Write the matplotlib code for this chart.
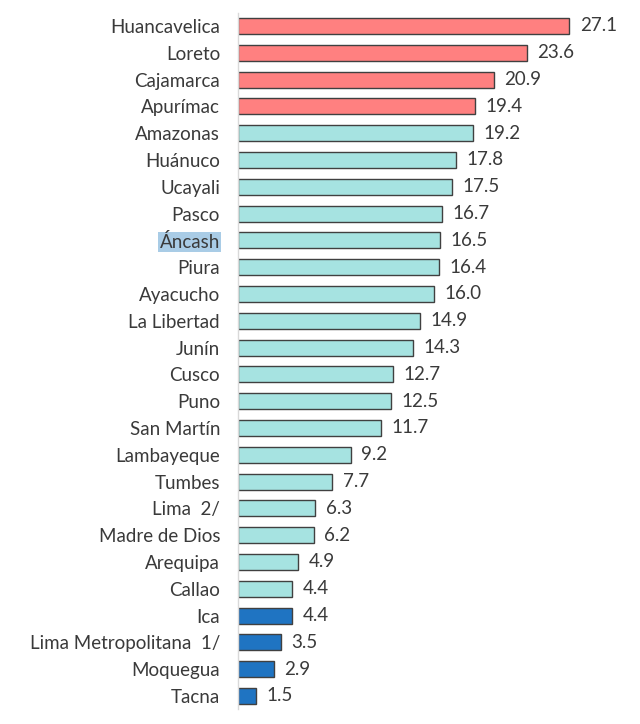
import matplotlib
matplotlib.use("Agg")
import matplotlib.pyplot as plt

regions = ["Huancavelica", "Loreto", "Cajamarca", "Apurímac", "Amazonas", "Huánuco",
           "Ucayali", "Pasco", "Áncash", "Piura", "Ayacucho", "La Libertad", "Junín",
           "Cusco", "Puno", "San Martín", "Lambayeque", "Tumbes", "Lima  2/",
           "Madre de Dios", "Arequipa", "Callao", "Ica", "Lima Metropolitana  1/",
           "Moquegua", "Tacna"]
values = [27.1, 23.6, 20.9, 19.4, 19.2, 17.8, 17.5, 16.7, 16.5, 16.4, 16.0, 14.9, 14.3,
          12.7, 12.5, 11.7, 9.2, 7.7, 6.3, 6.2, 4.9, 4.4, 4.4, 3.5, 2.9, 1.5]
groups = ["high"] * 4 + ["mid"] * 18 + ["low"] * 4
group_colors = {"high": "#FF8080", "mid": "#A6E3E1", "low": "#1F74C2"}

plt.rcParams['font.family'] = ['Lato', 'DejaVu Sans']

fig = plt.figure(figsize=(6.4, 7.24), dpi=100)
n = len(regions)
ax = fig.add_axes([0.372, 0.0202, 0.60, 0.9624])
ypos = list(range(n))
ax.barh(ypos, values, height=0.6, color=[group_colors[g] for g in groups],
        edgecolor="#404040", linewidth=1.0)
ax.set_ylim(n - 0.5, -0.5)
ax.set_xlim(0, 31.4)
for y, v in zip(ypos, values):
    ax.text(v + 0.85, y, f"{v:.1f}", va="center", ha="left", fontsize=13.5, color="#3A3A3A")
ax.set_yticks(ypos)
ax.set_yticklabels(regions, fontsize=13.5, color="#3A3A3A")
ax.tick_params(axis="y", length=0, pad=13)
ax.set_xticks([])
for s in ["top", "right", "bottom"]:
    ax.spines[s].set_visible(False)
ax.spines["left"].set_color("#D9D9D9")
ax.spines["left"].set_linewidth(1.0)
for lbl in ax.get_yticklabels():
    if lbl.get_text() == "Áncash":
        lbl.set_bbox(dict(facecolor="#A9CCE6", edgecolor="none", pad=1.0))
fig.savefig("out.png", dpi=100)
